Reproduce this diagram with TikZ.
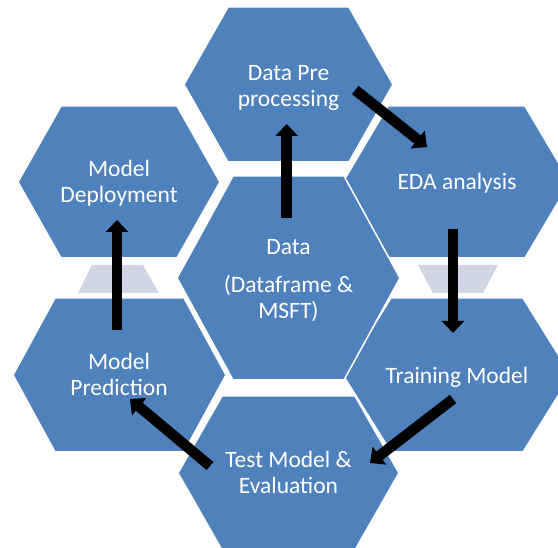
\documentclass[tikz,border=0pt]{standalone}
\usepackage{fontspec}
\setmainfont{Carlito}
\usetikzlibrary{arrows.meta}
\definecolor{hexblue}{HTML}{4F81BD}
\definecolor{linkgray}{HTML}{D0D6E6}
% \hexcell{left}{right}{top}{bottom}{slant}: a flattened hexagon
\newcommand{\hexcell}[5]{%
  \filldraw[hexcell] (#1,{(#3+#4)/2}) -- ({#1+#5},#3) -- ({#2-#5},#3)
    -- (#2,{(#3+#4)/2}) -- ({#2-#5},#4) -- ({#1+#5},#4) -- cycle;}
\begin{document}
\begin{tikzpicture}[x=1pt,y=-1pt,
  hexcell/.style={fill=hexblue,draw=white,line width=1.5pt},
  bridge/.style={fill=linkgray},
  celltext/.style={text=white,align=center,inner sep=0pt,
    font=\fontsize{23.5}{26}\selectfont},
  flow/.style={line width=10.5pt,-{Triangle[width=22pt,length=12pt]}}]
\useasboundingbox (0,0) rectangle (558,548);
\clip (0,0) rectangle (558,548);

% connecting trapezoids behind the cells
\fill[bridge] (92,265) -- (143,265) -- (159,293) -- (78,293) -- cycle;
\fill[bridge] (418,265) -- (498,265) -- (483,293) -- (433,293) -- cycle;

% hexagon cells
\hexcell{184}{393}{7}{162}{44}
\hexcell{343}{570}{106}{258}{45}
\hexcell{18}{220}{106}{258}{43}
\hexcell{13}{226}{298}{452}{42}
\hexcell{343}{571}{298}{452}{48}
\hexcell{178}{399}{396}{550}{44}
\hexcell{177}{400}{176}{380}{56}

% cell labels
\node[celltext] (pre)   at (288.5,87.5)  {Data Pre\\processing};
\node[celltext] (eda)   at (457,183)     {EDA analysis};
\node[celltext] (dep)   at (119,183.5)   {Model\\Deployment};
\node[celltext] (pred)  at (119,374)     {Model\\Prediction};
\node[celltext] (train) at (457,377)     {Training Model};
\node[celltext] (test)  at (288.5,472.5) {Test Model \&\\Evaluation};
\node[celltext] (data)  at (288.5,280.5) {Data\\[12pt](Dataframe \&\\MSFT)};

% arrow end points
\coordinate (d0) at (286.7,218);   \coordinate (d1) at (286.7,124);
\coordinate (p0) at (355.3,90);    \coordinate (p1) at (427,147);
\coordinate (e0) at (453,229);     \coordinate (e1) at (453,333);
\coordinate (t0) at (453,399);     \coordinate (t1) at (370,463);
\coordinate (s0) at (210,466);     \coordinate (s1) at (130,399);
\coordinate (m0) at (117,330);     \coordinate (m1) at (117,220);

% process flow
\draw[flow] (d0) -- (d1);
\draw[flow] (p0) -- (p1);
\draw[flow] (e0) -- (e1);
\draw[flow] (t0) -- (t1);
\draw[flow] (s0) -- (s1);
\draw[flow] (m0) -- (m1);
\end{tikzpicture}
\end{document}
